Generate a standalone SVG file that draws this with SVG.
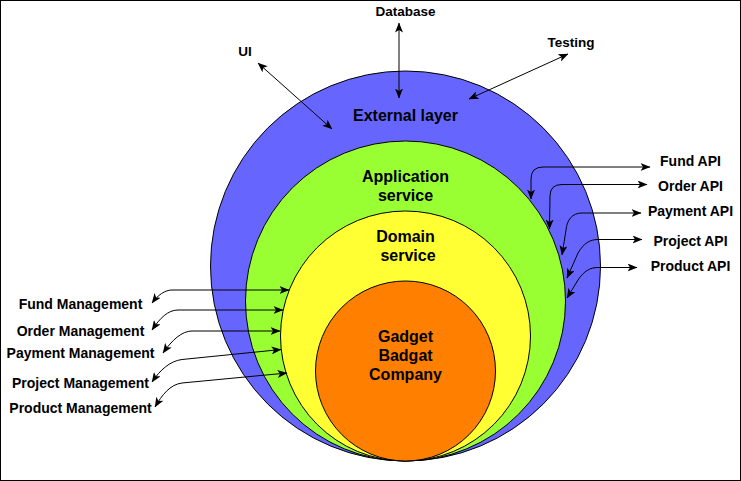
<svg xmlns="http://www.w3.org/2000/svg" width="741" height="481" viewBox="0 0 741 481">
<style>
.lbl{font-family:"Liberation Sans",Arial,sans-serif;font-weight:bold;font-size:14px;fill:#000;text-anchor:middle}
.big{font-family:"Liberation Sans",Arial,sans-serif;font-weight:bold;font-size:16px;fill:#000;text-anchor:middle}
.top{font-size:13.5px}
.ring{stroke:#000;stroke-width:1}
.edge{fill:none;stroke:#000;stroke-width:1;marker-start:url(#arr);marker-end:url(#arr)}
</style>
<defs>
<marker id="arr" viewBox="0 0 10 8" refX="9.5" refY="4" markerWidth="10" markerHeight="8" markerUnits="userSpaceOnUse" orient="auto-start-reverse">
<path d="M0,0 L10,4 L0,8 L2.5,4 z" fill="#000"/>
</marker>
</defs>
<rect x="0.5" y="0.5" width="740" height="480" fill="#fff" stroke="#000" stroke-width="1"/>
<g id="external-layer">
<circle class="ring" cx="405.5" cy="266" r="195" fill="#6666FF"/>
<text class="big" x="405.5" y="121">External layer</text>
</g>
<g id="application-service">
<circle class="ring" cx="405.5" cy="301" r="160" fill="#99FF33"/>
<text class="big" x="405.5" y="182">Application</text>
<text class="big" x="405.5" y="200.5">service</text>
</g>
<g id="domain-service">
<circle class="ring" cx="405.5" cy="336" r="125" fill="#FFFF33"/>
<text class="big" x="405.5" y="242">Domain</text>
<text class="big" x="408" y="261">service</text>
</g>
<g id="company">
<circle class="ring" cx="405.5" cy="371" r="90" fill="#FF8000"/>
<text class="big" x="405.5" y="342">Gadget</text>
<text class="big" x="405.5" y="361">Badgat</text>
<text class="big" x="405.5" y="380">Company</text>
</g>
<g id="ui"><text class="lbl top" x="245" y="56">UI</text></g>
<g id="database"><text class="lbl top" x="405.5" y="16">Database</text></g>
<g id="testing"><text class="lbl top" x="571" y="46.5">Testing</text></g>
<g id="fund-api"><text class="lbl" x="690.5" y="166">Fund API</text></g>
<g id="order-api"><text class="lbl" x="690.5" y="191">Order API</text></g>
<g id="payment-api"><text class="lbl" x="690.5" y="216">Payment API</text></g>
<g id="project-api"><text class="lbl" x="690.5" y="246">Project API</text></g>
<g id="product-api"><text class="lbl" x="690.5" y="270.5">Product API</text></g>
<g id="fund-management"><text class="lbl" x="80.5" y="308.5">Fund Management</text></g>
<g id="order-management"><text class="lbl" x="80.5" y="336">Order Management</text></g>
<g id="payment-management"><text class="lbl" x="80.5" y="358">Payment Management</text></g>
<g id="project-management"><text class="lbl" x="80.5" y="388">Project Management</text></g>
<g id="product-management"><text class="lbl" x="80.5" y="412.5">Product Management</text></g>
<g id="connectors">
<path class="edge" d="M332 129 L258 63"/>
<path class="edge" d="M399 98 L399 23"/>
<path class="edge" d="M469 99 L568 54"/>
<path class="edge" d="M650 167 L543 167 Q531 167 531 179 L531 199"/>
<path class="edge" d="M647 184.5 L562 184.5 Q550 184.5 550 196 L549.5 229"/>
<path class="edge" d="M641 213 L582 213 C572 213 567 220 566 230 L562 255"/>
<path class="edge" d="M642 239.5 L598 239.5 C590 239.5 584 243 578 253 L567 278"/>
<path class="edge" d="M637 267.5 L598 267.5 C590 267.5 584 271 578 280 L567 298"/>
<path class="edge" d="M289 290 L172 290 C165 290 158 295 152 303"/>
<path class="edge" d="M283 310 L178 310 C168 310 160 318 152 330"/>
<path class="edge" d="M280 331 L192 331 C182 331 172 340 163 353"/>
<path class="edge" d="M281 349.5 L182 359.5 C170 361 160 370 152 382"/>
<path class="edge" d="M287 373 L182 383 C170 384.5 162 395 155 407"/>
</g>
</svg>
